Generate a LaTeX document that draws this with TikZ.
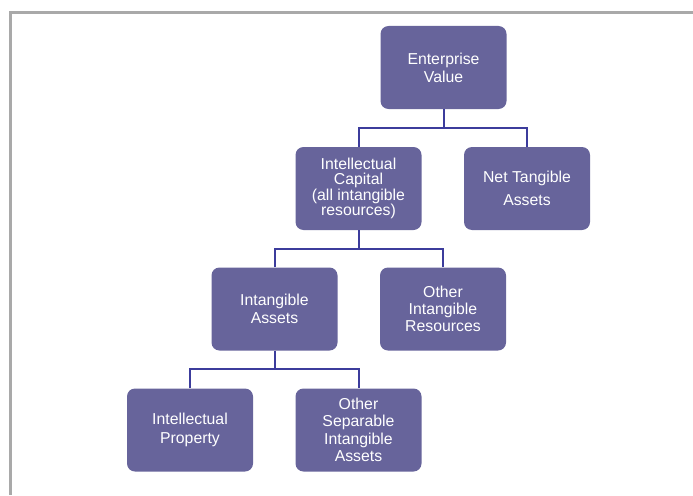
\documentclass[tikz,border=0pt]{standalone}
\usepackage{fontspec}
\setmainfont{Liberation Sans}
\definecolor{boxfill}{HTML}{67649B}
\definecolor{linkblue}{HTML}{3C3C9C}
\definecolor{framegray}{HTML}{A9A9A9}
\begin{document}
\begin{tikzpicture}[x=1pt,y=-1pt,
  orgbox/.style={draw=none, fill=boxfill, rounded corners=8pt,
    minimum width=126pt, minimum height=83pt, inner sep=2pt,
    text=white, align=center, font=\fontsize{15.8}{18}\selectfont},
  link/.style={draw=linkblue, line width=2pt}]
  \useasboundingbox (0,0) rectangle (693,495);
  % outer frame (top and left edges)
  \draw[framegray, line width=2.6pt] (10.3,495) -- (10.3,12.8) -- (693,12.8);

  % boxes
  \node[orgbox] (ev)   at (443.5,67.5) {Enterprise\\Value};
  \node[orgbox, font=\fontsize{15.8}{15.5}\selectfont] (ic) at (358.5,188.5)
        {Intellectual\\Capital\\(all intangible\\resources)};
  \node[orgbox, font=\fontsize{15.8}{23}\selectfont] (nta) at (527,188.5)
        {Net Tangible\\Assets};
  \node[orgbox] (ia)   at (274.5,309) {Intangible\\Assets};
  \node[orgbox, font=\fontsize{15.8}{17}\selectfont] (oir) at (443,309)
        {Other\\Intangible\\Resources};
  \node[orgbox, font=\fontsize{15.8}{18.5}\selectfont] (ip) at (190,430)
        {Intellectual\\Property};
  \node[orgbox, font=\fontsize{15.8}{17.5}\selectfont] (osia) at (358.5,430)
        {Other\\Separable\\Intangible\\Assets};

  % connectors
  \draw[link] (ev.south) -- ++(0,18.5) coordinate (j1);
  \draw[link] (ic.north) |- (j1) -| (nta.north);
  \draw[link] (ic.south) -- ++(0,18.5) coordinate (j2);
  \draw[link] (ia.north) |- (j2) -| (oir.north);
  \draw[link] (ia.south) -- ++(0,18.5) coordinate (j3);
  \draw[link] (ip.north) |- (j3) -| (osia.north);
\end{tikzpicture}
\end{document}
